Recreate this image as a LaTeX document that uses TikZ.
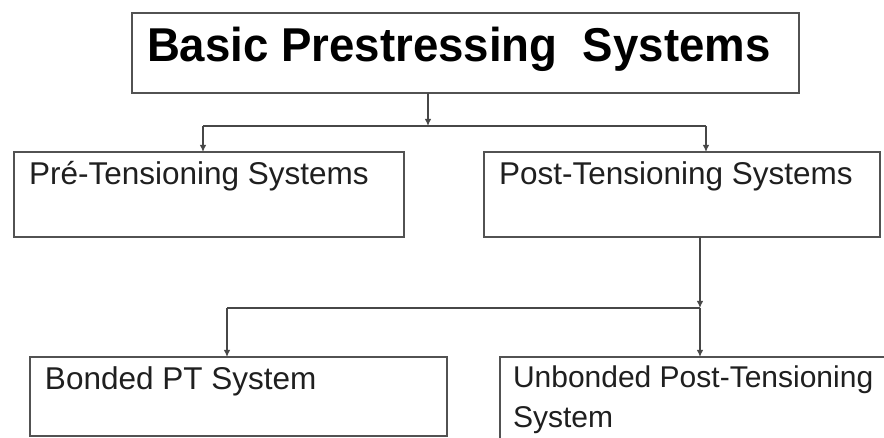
\documentclass[tikz,border=0pt]{standalone}
\usepackage{fontspec}
\setmainfont{Liberation Sans}
\usetikzlibrary{arrows.meta}
\tikzset{
  box/.style={draw=black!68, line width=1.5pt, inner sep=0pt, outer sep=0pt, anchor=north west},
  lbl/.style={inner sep=0pt, outer sep=0pt, anchor=base west, text=black!88,
              font=\fontsize{31.5}{35}\selectfont},
  lblsm/.style={lbl, font=\fontsize{30}{34}\selectfont},
  ttl/.style={inner sep=0pt, outer sep=0pt, anchor=base west, text=black,
              font=\fontsize{47.5}{52}\selectfont\bfseries},
  conn/.style={draw=black!72, line width=1.3pt},
  arr/.style={conn, -{Latex[length=7pt,width=6.5pt]}},
}
\begin{document}
\begin{tikzpicture}[x=1pt,y=-1pt]
  \useasboundingbox (0,0) rectangle (884,438);
  \fill[white] (0,0) rectangle (884,438);
  \clip (0,0) rectangle (884,438);

  % boxes
  \node[box, minimum width=667, minimum height=80] (top) at (132,13) {};
  \node[box, minimum width=390, minimum height=85] (pre) at (14,152) {};
  \node[box, minimum width=396, minimum height=85] (post) at (484,152) {};
  \node[box, minimum width=417, minimum height=79] (bonded) at (30,357) {};
  \node[box, minimum width=420, minimum height=120] (unb) at (500,357) {};

  % labels
  \node[ttl] (ttltext) at (147,62) {\scalebox{0.96}[1]{Basic Prestressing\ \ Systems}};
  \node[lbl] (pretext) at (29,185) {Pré-Tensioning Systems};
  \node[lbl] (posttext) at (499,185) {Post-Tensioning Systems};
  \node[lbl] (bondtext) at (45,390) {Bonded PT System};
  \node[lblsm] (unbtext1) at (513,388) {Unbonded Post-Tensioning};
  \node[lblsm] (unbtext2) at (513,427) {System};

  % junction points
  \coordinate (s1) at (428,126);
  \coordinate (s1l) at (203,126);
  \coordinate (s1r) at (706,126);
  \coordinate (s2) at (700,308);
  \coordinate (s2l) at (227,308);

  % connectors
  \draw[arr] (top.south -| s1) -- (s1);
  \draw[conn] (s1l) -- (s1r);
  \draw[arr] (s1l) -- (pre.north -| s1l);
  \draw[arr] (s1r) -- (post.north -| s1r);

  \draw[arr] (post.south -| s2) -- (s2);
  \draw[conn] (s2l) -- (s2);
  \draw[arr] (s2l) -- (bonded.north -| s2l);
  \draw[arr] (s2) -- (unb.north -| s2);
\end{tikzpicture}
\end{document}
